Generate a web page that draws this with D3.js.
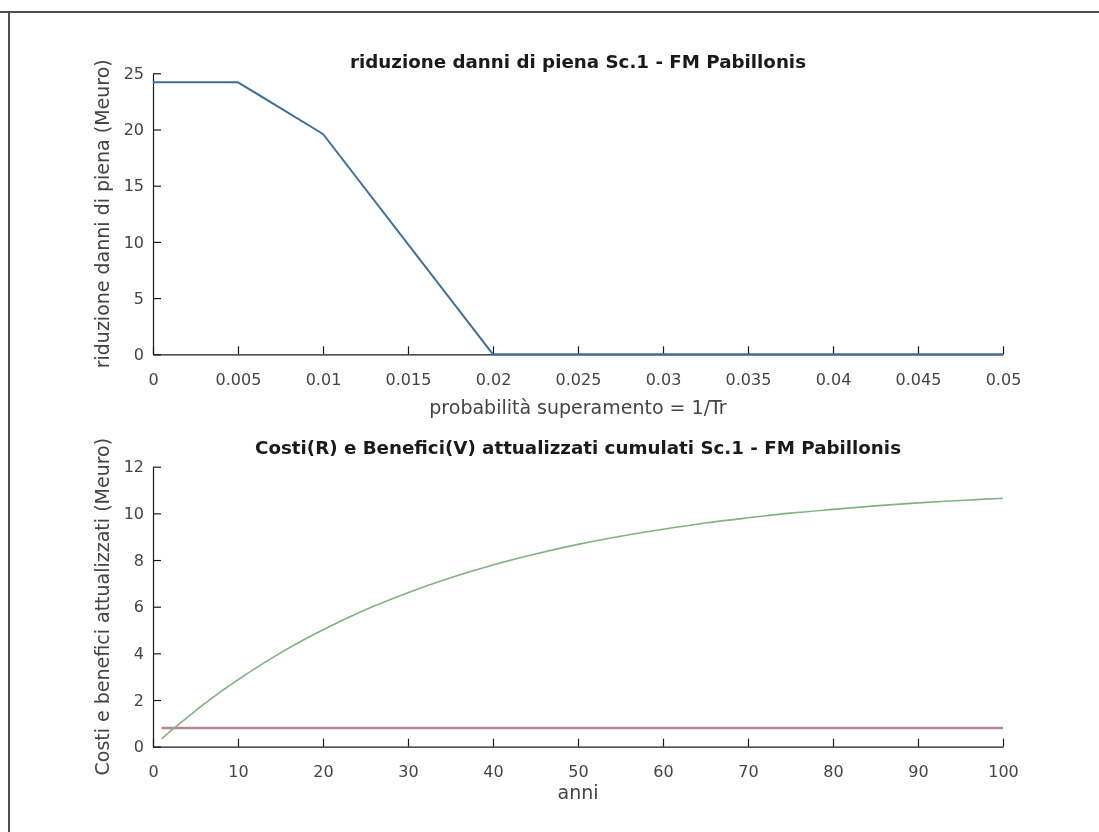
<!DOCTYPE html>
<html>
<head>
<meta charset="utf-8">
<script src="https://cdn.jsdelivr.net/npm/d3@7/dist/d3.min.js"></script>
<style>
  html, body { margin: 0; padding: 0; background: #fff; overflow: hidden; width: 100%; height: 100%; }
  svg { display: block; position: fixed; top: 0; left: 0; }
  text { font-family: "DejaVu Sans", "Liberation Sans", sans-serif; }
</style>
</head>
<body>
<svg id="chart" width="1099" height="832"></svg>
<script>
// ---------- DATA ----------
const topTitle = "riduzione danni di piena Sc.1 - FM Pabillonis";
const topXLabel = "probabilità superamento = 1/Tr";
const topYLabel = "riduzione danni di piena (Meuro)";
const probability = [0, 0.005, 0.01, 0.02, 0.05];
const damageReduction = [24.2, 24.2, 19.6, 0, 0];
const topXTicks = [0, 0.005, 0.01, 0.015, 0.02, 0.025, 0.03, 0.035, 0.04, 0.045, 0.05];
const topXTickLabels = ["0", "0.005", "0.01", "0.015", "0.02", "0.025", "0.03", "0.035", "0.04", "0.045", "0.05"];
const topYTicks = [0, 5, 10, 15, 20, 25];

const bottomTitle = "Costi(R) e Benefici(V)  attualizzati cumulati Sc.1 - FM Pabillonis";
const bottomXLabel = "anni";
const bottomYLabel = "Costi e benefici attualizzati (Meuro)";
const benefitYears = [1, 2, 3, 4, 5, 6, 7, 8, 9, 10, 15, 20, 25, 30, 35, 40, 45, 50, 55, 60, 65, 70, 75, 80, 85, 90, 95, 100];
const benefitValues = [0.33, 0.65, 0.95, 1.25, 1.54, 1.83, 2.10, 2.37, 2.62, 2.87, 4.02, 5.01, 5.87, 6.60, 7.24, 7.79, 8.26, 8.67, 9.02, 9.32, 9.59, 9.81, 10.01, 10.17, 10.32, 10.45, 10.55, 10.65];
const costYears = [1, 100];
const costValues = [0.8, 0.8];
const bottomXTicks = [0, 10, 20, 30, 40, 50, 60, 70, 80, 90, 100];
const bottomYTicks = [0, 2, 4, 6, 8, 10, 12];

// ---------- DRAW ----------
const svg = d3.select("#chart");
const W = 1099, H = 832;

// frame lines (top and left)
svg.append("line").attr("x1", 0).attr("x2", W).attr("y1", 12).attr("y2", 12)
  .attr("stroke", "#4d4d4d").attr("stroke-width", 2);
svg.append("line").attr("x1", 9).attr("x2", 9).attr("y1", 11).attr("y2", H)
  .attr("stroke", "#4d4d4d").attr("stroke-width", 2);

const axL = 153, axR = 1003;

function drawPanel(cfg) {
  const x = d3.scaleLinear().domain(cfg.xDomain).range([axL, axR]);
  const y = d3.scaleLinear().domain(cfg.yDomain).range([cfg.yBottom, cfg.yTop]);
  const g = svg.append("g");

  const xAxis = d3.axisBottom(x).tickValues(cfg.xTicks)
    .tickFormat((d, i) => cfg.xTickLabels ? cfg.xTickLabels[i] : String(d))
    .tickSizeInner(-8).tickSizeOuter(0).tickPadding(19);
  const gx = g.append("g").attr("transform", `translate(0,${cfg.yBottom})`).call(xAxis);

  const yAxis = d3.axisLeft(y).tickValues(cfg.yTicks)
    .tickFormat(d => String(d))
    .tickSizeInner(-8).tickSizeOuter(0).tickPadding(9);
  const gy = g.append("g").attr("transform", `translate(${axL},0)`).call(yAxis);

  [gx, gy].forEach(a => {
    a.select(".domain").attr("stroke", "#1a1a1a").attr("stroke-width", 1.2);
    a.selectAll(".tick line").attr("stroke", "#1a1a1a").attr("stroke-width", 1.2);
    a.selectAll(".tick text").attr("fill", "#444").style("font-size", "16px")
      .style("font-family", "'DejaVu Sans', sans-serif");
  });

  // lines
  cfg.series.forEach(s => {
    const pts = s.xs.map((v, i) => [v, s.ys[i]]);
    const line = d3.line().x(d => x(d[0])).y(d => y(d[1]));
    if (s.curve) line.curve(s.curve);
    g.append("path").datum(pts).attr("d", line)
      .attr("fill", "none").attr("stroke", s.color)
      .attr("stroke-width", s.width).attr("stroke-linejoin", "round");
  });

  // title
  g.append("text").attr("x", (axL + axR) / 2).attr("y", cfg.titleY)
    .attr("text-anchor", "middle").attr("fill", "#1a1a1a")
    .style("font-size", cfg.titleSize).style("font-weight", "bold")
    .attr("textLength", cfg.titleLen).attr("lengthAdjust", "spacingAndGlyphs")
    .text(cfg.title);
  // x label
  g.append("text").attr("x", (axL + axR) / 2).attr("y", cfg.xLabelY)
    .attr("text-anchor", "middle").attr("fill", "#444")
    .style("font-size", "19px").text(cfg.xLabel);
  // y label
  g.append("text")
    .attr("transform", `translate(${cfg.yLabelX},${(cfg.yBottom + cfg.yTop) / 2}) rotate(-90)`)
    .attr("text-anchor", "middle").attr("fill", "#444")
    .style("font-size", "19px").text(cfg.yLabel);
}

drawPanel({
  xDomain: [0, 0.05], yDomain: [0, 25],
  yBottom: 354.3, yTop: 73.3,
  xTicks: topXTicks, xTickLabels: topXTickLabels, yTicks: topYTicks,
  title: topTitle, titleY: 68, titleLen: 456, titleSize: "17px",
  xLabel: topXLabel, xLabelY: 414,
  yLabel: topYLabel, yLabelX: 109,
  series: [
    { xs: probability, ys: damageReduction, color: "#3f6f98", width: 2 }
  ]
});

drawPanel({
  xDomain: [0, 100], yDomain: [0, 12],
  yBottom: 746.7, yTop: 466.7,
  xTicks: bottomXTicks, yTicks: bottomYTicks,
  title: bottomTitle, titleY: 454, titleLen: 646, titleSize: "18px",
  xLabel: bottomXLabel, xLabelY: 799,
  yLabel: bottomYLabel, yLabelX: 109,
  series: [
    { xs: costYears, ys: costValues, color: "#b9848d", width: 2.5 },
    { xs: benefitYears, ys: benefitValues, color: "#80b283", width: 1.6, curve: d3.curveMonotoneX }
  ]
});
</script>
</body>
</html>
